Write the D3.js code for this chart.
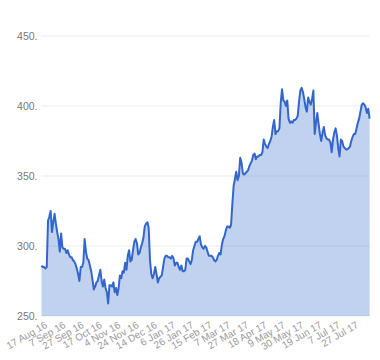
<!DOCTYPE html>
<html>
<head>
<meta charset="utf-8">
<script src="https://cdn.jsdelivr.net/npm/d3@7"></script>
<style>
  html, body { margin: 0; padding: 0; background: #fff; }
  svg { display: block; font-family: "Liberation Sans", Arial, sans-serif; }
</style>
</head>
<body>
<svg id="chart" width="380" height="360"></svg>
<script>
// Tick labels on the category axis (one every 14 trading days)
const tickLabels = ["17 Aug 16","7 Sep 16","27 Sep 16","17 Oct 16","4 Nov 16","24 Nov 16",
  "14 Dec 16","6 Jan 17","26 Jan 17","15 Feb 17","7 Mar 17","27 Mar 17","18 Apr 17",
  "9 May 17","30 May 17","19 Jun 17","7 Jul 17","27 Jul 17"];
const tickEvery = 14;

// Series values (one per trading day, starting 17 Aug 16)
const values = [
  286,285,285,284,285,318,321,325,310,317,
  323,316,310,305,296,309,299,298,298,295,
  297,294,292,292,290,289,287,284,280,275,
  285,285,288,305,296,291,290,286,282,276,
  269,271,274,275,279,283,275,271,276,270,
  267,259,272,272,271,274,267,270,265,270,
  279,277,282,281,288,283,293,297,289,290,
  297,303,305,302,294,295,299,302,306,314,
  316,317,313,290,280,277,280,285,280,274,
  277,278,279,285,291,293,293,292,292,291,
  293,291,286,288,288,285,283,286,282,282,
  283,291,291,289,287,290,297,300,303,303,
  305,307,301,299,298,300,299,296,293,293,
  293,292,290,289,290,293,295,294,301,305,
  307,311,314,314,313,315,330,343,348,353,
  347,350,363,360,352,351,352,353,354,357,
  359,361,365,366,362,364,364,365,365,367,
  376,373,371,370,373,375,378,385,390,380,
  382,382,384,402,412,404,403,400,404,391,
  388,389,388,390,390,391,393,403,411,413,
  410,405,399,396,406,403,401,405,411,380,
  388,395,387,380,375,381,385,379,377,376,
  376,374,367,376,381,384,379,370,364,376,
  375,371,370,369,369,370,371,375,378,380,
  380,384,388,391,396,401,402,401,399,395,
  398,391
];

// Y-axis ticks
const yTicks = [250, 300, 350, 400, 450];

const svg = d3.select("#chart");
const m = { left: 41.5, right: 10.4, top: 36, bottom: 44 };
const W = 380, H = 360;

const x = d3.scaleLinear().domain([0, values.length - 1]).range([m.left, W - m.right]);
const y = d3.scaleLinear().domain([250, 450]).range([H - m.bottom, m.top]);

// gridlines
svg.append("g").selectAll("line").data(yTicks).join("line")
  .attr("x1", m.left).attr("x2", W - m.right)
  .attr("y1", d => y(d)).attr("y2", d => y(d))
  .attr("stroke", "#ebebeb").attr("stroke-width", 1);

// area
const area = d3.area().x((d, i) => x(i)).y0(y(250)).y1(d => y(d));
svg.append("path").datum(values).attr("d", area)
  .attr("fill", "#3366cc").attr("fill-opacity", 0.3);

// line
const line = d3.line().x((d, i) => x(i)).y(d => y(d));
svg.append("path").datum(values).attr("d", line)
  .attr("fill", "none").attr("stroke", "#3366cc").attr("stroke-width", 2)
  .attr("stroke-linejoin", "round");

// y axis labels
const yAxis = d3.axisLeft(y).tickValues(yTicks).tickSize(0).tickPadding(4)
  .tickFormat(d => d + ".");
const gy = svg.append("g").attr("transform", `translate(${m.left},0)`).call(yAxis);
gy.select(".domain").remove();
gy.selectAll("text").attr("fill", "#777").attr("font-size", 10.5)
  .attr("font-family", "'Liberation Sans', Arial, sans-serif");

// x axis labels (slanted)
const xTickIdx = tickLabels.map((t, i) => i * tickEvery);
const xAxis = d3.axisBottom(x).tickValues(xTickIdx).tickSize(0)
  .tickFormat((d, i) => tickLabels[i]);
const gx = svg.append("g").attr("transform", `translate(0,${H - m.bottom})`).call(xAxis);
gx.select(".domain").remove();
gx.selectAll("text")
  .attr("fill", "#9a9a9a").attr("font-size", 10)
  .attr("font-family", "'Liberation Sans', Arial, sans-serif")
  .attr("text-anchor", "end")
  .attr("dy", null).attr("y", 0)
  .attr("transform", "translate(6,11) rotate(-30)");
</script>
</body>
</html>
